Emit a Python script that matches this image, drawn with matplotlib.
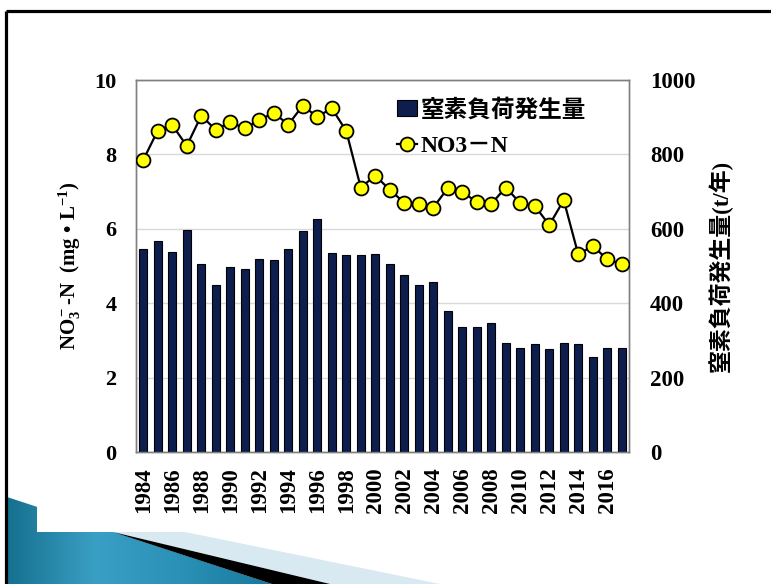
import matplotlib
matplotlib.use('Agg')
import matplotlib.pyplot as plt
import numpy as np
from matplotlib.patches import Polygon, Rectangle
from matplotlib.colors import LinearSegmentedColormap

# yearly values
years = np.arange(1984, 2018)
no3_n = [7.85, 8.64, 8.79, 8.23, 9.04, 8.66, 8.87, 8.70, 8.92, 9.12,
         8.80, 9.31, 9.01, 9.24, 8.63, 7.11, 7.43, 7.05, 6.70, 6.66,
         6.57, 7.09, 6.98, 6.73, 6.67, 7.11, 6.69, 6.62, 6.10, 6.77,
         5.31, 5.54, 5.18, 5.05]
n_load = [545, 567, 537, 597, 506, 448, 498, 492, 518, 517,
          546, 593, 626, 534, 530, 530, 531, 506, 476, 448,
          456, 380, 335, 335, 346, 292, 279, 290, 277, 294,
          290, 256, 279, 279]
year_ticks = list(range(1984, 2017, 2))
left_ticks = [0, 2, 4, 6, 8, 10]
right_ticks = [0, 200, 400, 600, 800, 1000]

plt.rcParams['font.family'] = ['Liberation Serif', 'Noto Sans CJK JP']
plt.rcParams['font.weight'] = 'bold'
plt.rcParams['mathtext.fontset'] = 'custom'
plt.rcParams['mathtext.rm'] = 'Liberation Serif:bold'
plt.rcParams['mathtext.it'] = 'Liberation Serif:bold'
plt.rcParams['mathtext.bf'] = 'Liberation Serif:bold'

W, H = 771, 584
fig = plt.figure(figsize=(W / 100, H / 100), dpi=100)

# slide background: border lines and the swoosh at bottom left
bg = fig.add_axes([0, 0, 1, 1], zorder=-10)
swoosh = Polygon([(7, 497), (272, 584), (7, 584)], closed=True, transform=bg.transData)
cm = LinearSegmentedColormap.from_list('sw', ['#16708f', '#3a9fc4', '#2a90b5', '#17799c'])
im = bg.imshow(np.linspace(0, 1, 256).reshape(1, -1), cmap=cm, extent=(7, 272, 584, 497),
               aspect='auto', zorder=1)
im.set_clip_path(swoosh)
bg.add_patch(Polygon([(185, 532), (113, 532), (330, 584), (440, 584)], closed=True,
                     facecolor='#d8e9f1', edgecolor='none', zorder=2))
bg.add_patch(Polygon([(113, 532), (330, 584), (272, 584)], closed=True,
                     facecolor='black', edgecolor='none', zorder=3))
bg.add_patch(Rectangle((37, 0), W - 37, 532, facecolor='white', edgecolor='none', zorder=4))
bg.plot([6, W], [11, 11], color='black', lw=2.3, zorder=5, solid_capstyle='butt')
bg.plot([6, 6], [11, H], color='black', lw=2.3, zorder=5, solid_capstyle='butt')
bg.set_xlim(0, W)
bg.set_ylim(H, 0)
bg.axis('off')

# chart
ax = fig.add_axes([136 / W, (H - 452) / H, 493 / W, 372 / H])
ax2 = ax.twinx()

bars = ax2.bar(years, n_load, width=0.55, color='#0d1e4e', edgecolor='black', lw=0.8,
               zorder=3, label='窒素負荷発生量')
ax2.set_ylim(0, 1000)
ax2.set_yticks(right_ticks)
ax2.grid(axis='y', color='#d9d9d9', lw=1, zorder=0)
ax2.set_axisbelow(True)

line, = ax.plot(years, no3_n, color='black', lw=1.6, marker='o', ms=10,
                mfc='#ffff00', mec='black', mew=1.3, zorder=5, label='NO3－N')
ax.set_ylim(0, 10)
ax.set_yticks(left_ticks)
ax.set_xlim(1983.5, 2017.5)
ax.set_xticks(year_ticks)
ax.set_xticklabels([str(y) for y in year_ticks], rotation=90)
ax.set_zorder(ax2.get_zorder() + 1)
ax.patch.set_visible(False)

for a in (ax, ax2):
    for s in a.spines.values():
        s.set_color('#808080')
        s.set_linewidth(1)
ax.tick_params(axis='y', length=0, pad=14, labelsize=16)
ax.tick_params(axis='x', length=0, pad=11, labelsize=16.5)
ax2.tick_params(axis='y', length=0, pad=15, labelsize=16.5)

ax.set_ylabel('NO$_3^-$-N  (mg • L$^{-1}$)', fontsize=15, fontweight='bold')
ax.yaxis.label.set_va('center')
ax.yaxis.set_label_coords(-0.134, 0.5)
ax2.set_ylabel('窒素負荷発生量(t/年)', fontsize=16.5, fontweight='bold')
ax2.yaxis.label.set_va('center')
ax2.yaxis.set_label_coords(1.185, 0.5)

ax.legend([bars, line], ['窒素負荷発生量', 'NO3－N'], loc='upper left',
          bbox_to_anchor=(0.53, 0.95), frameon=False, fontsize=17,
          handlelength=0.85, handletextpad=0.15, borderpad=0, borderaxespad=0,
          labelspacing=0.6, numpoints=1)

fig.savefig('out.png', dpi=100)
